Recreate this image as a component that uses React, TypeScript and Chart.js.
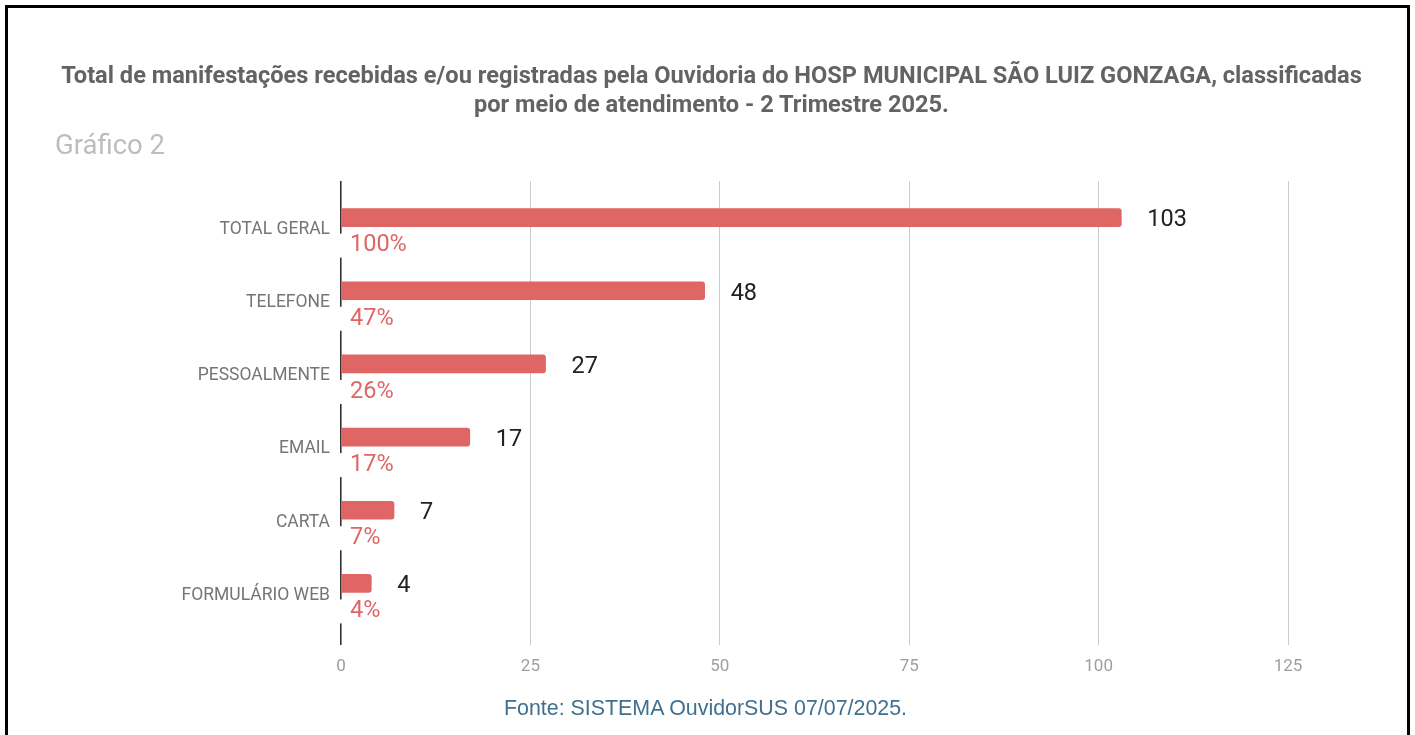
import React, { useEffect, useRef } from "react";
import { Chart, registerables } from "chart.js";

Chart.register(...registerables);

const categories = ["TOTAL GERAL", "TELEFONE", "PESSOALMENTE", "EMAIL", "CARTA", "FORMULÁRIO WEB"];
const values = [103, 48, 27, 17, 7, 4];
const percentLabels = ["100%", "47%", "26%", "17%", "7%", "4%"];
const xTicks = [0, 25, 50, 75, 100, 125];

const BAR_COLOR = "#e06666";
const FONT = "Roboto, 'Noto Sans', sans-serif";

const labelPlugin = {
  id: "barLabels",
  afterDatasetsDraw(chart: any) {
    const ctx = chart.ctx;
    const meta = chart.getDatasetMeta(0);
    const xScale = chart.scales.x;
    const x0 = xScale.getPixelForValue(0);
    ctx.save();
    meta.data.forEach((bar: any, i: number) => {
      // value label
      ctx.font = `23.5px ${FONT}`;
      ctx.fillStyle = "#222222";
      ctx.textAlign = "left";
      ctx.textBaseline = "middle";
      ctx.fillText(String(values[i]), bar.x + 26, bar.y + 3);
      // percent label with white backing
      const pct = percentLabels[i];
      const w = ctx.measureText(pct).width;
      const py = bar.y + 28;
      ctx.fillStyle = "#ffffff";
      ctx.fillRect(x0 - 4, py - 12, w + 16, 24);
      ctx.fillStyle = BAR_COLOR;
      ctx.fillText(pct, x0 + 9, py);
    });
    ctx.restore();
  },
};

function ChartView() {
  const ref = useRef<HTMLCanvasElement | null>(null);
  useEffect(() => {
    if (!ref.current) return;
    const chart = new Chart(ref.current, {
      type: "bar",
      data: {
        labels: categories,
        datasets: [
          {
            data: values,
            backgroundColor: BAR_COLOR,
            barThickness: 18,
            borderRadius: 3,
            borderSkipped: "start",
          },
        ],
      },
      options: {
        indexAxis: "y",
        animation: false,
        responsive: false,
        maintainAspectRatio: false,
        layout: { padding: { left: 0, right: 127, top: 181, bottom: 0 } },
        plugins: {
          legend: { display: false },
          title: { display: false },
          tooltip: { enabled: false },
        },
        scales: {
          x: {
            type: "linear",
            min: 0,
            max: 125,
            afterBuildTicks: (scale: any) => {
              scale.ticks = xTicks.map((v) => ({ value: v }));
            },
            afterFit: (scale: any) => {
              scale.height = 115;
            },
            border: { display: false },
            grid: {
              color: (c: any) => (c.tick && c.tick.value === 0 ? "#333333" : "#cccccc"),
              lineWidth: (c: any) => (c.tick && c.tick.value === 0 ? 1.6 : 1),
              tickLength: 25,
              drawTicks: true,
            },
            ticks: {
              padding: 12,
              color: "#9e9e9e",
              font: { family: FONT, size: 17 },
            },
          },
          y: {
            type: "category",
            afterFit: (scale: any) => {
              scale.width = 341;
            },
            border: { display: false },
            grid: { display: false, drawTicks: false },
            ticks: {
              padding: 11,
              labelOffset: 12,
              color: "#757575",
              font: { family: FONT, size: 17.5 },
            },
          },
        },
      },
      plugins: [labelPlugin],
    });
    return () => chart.destroy();
  }, []);
  return (
    <canvas
      ref={ref}
      width={1415}
      height={735}
      style={{ position: "absolute", left: 0, top: 0, width: 1415, height: 735 }}
    />
  );
}

export default function App() {
  useEffect(() => {
    document.body.style.margin = "0";
  }, []);
  return (
    <div
      style={{
        position: "relative",
        width: 1415,
        height: 735,
        overflow: "hidden",
        background: "#ffffff",
        fontFamily: FONT,
      }}
    >
      <div
        style={{
          position: "absolute",
          left: 5,
          top: 5,
          width: 1399,
          height: 780,
          border: "3px solid #000000",
        }}
      />
      <ChartView />
      <div
        style={{
          position: "absolute",
          left: 0,
          width: 1423,
          top: 61,
          textAlign: "center",
          fontWeight: 700,
          fontSize: 23.6,
          lineHeight: "29px",
          color: "#636363",
          whiteSpace: "nowrap",
        }}
      >
        Total de manifestações recebidas e/ou registradas pela Ouvidoria do HOSP MUNICIPAL SÃO LUIZ GONZAGA, classificadas
        <br />
        por meio de atendimento - 2 Trimestre 2025.
      </div>
      <div
        style={{
          position: "absolute",
          left: 55,
          top: 128,
          fontSize: 27.5,
          lineHeight: "34px",
          color: "#bdbdbd",
        }}
      >
        Gráfico 2
      </div>
      <div
        style={{
          position: "absolute",
          left: 0,
          width: 1411,
          top: 695,
          textAlign: "center",
          fontFamily: "'Liberation Sans', Arial, sans-serif",
          fontSize: 21.4,
          lineHeight: "26px",
          color: "#41708f",
        }}
      >
        Fonte: SISTEMA OuvidorSUS 07/07/2025.
      </div>
    </div>
  );
}
